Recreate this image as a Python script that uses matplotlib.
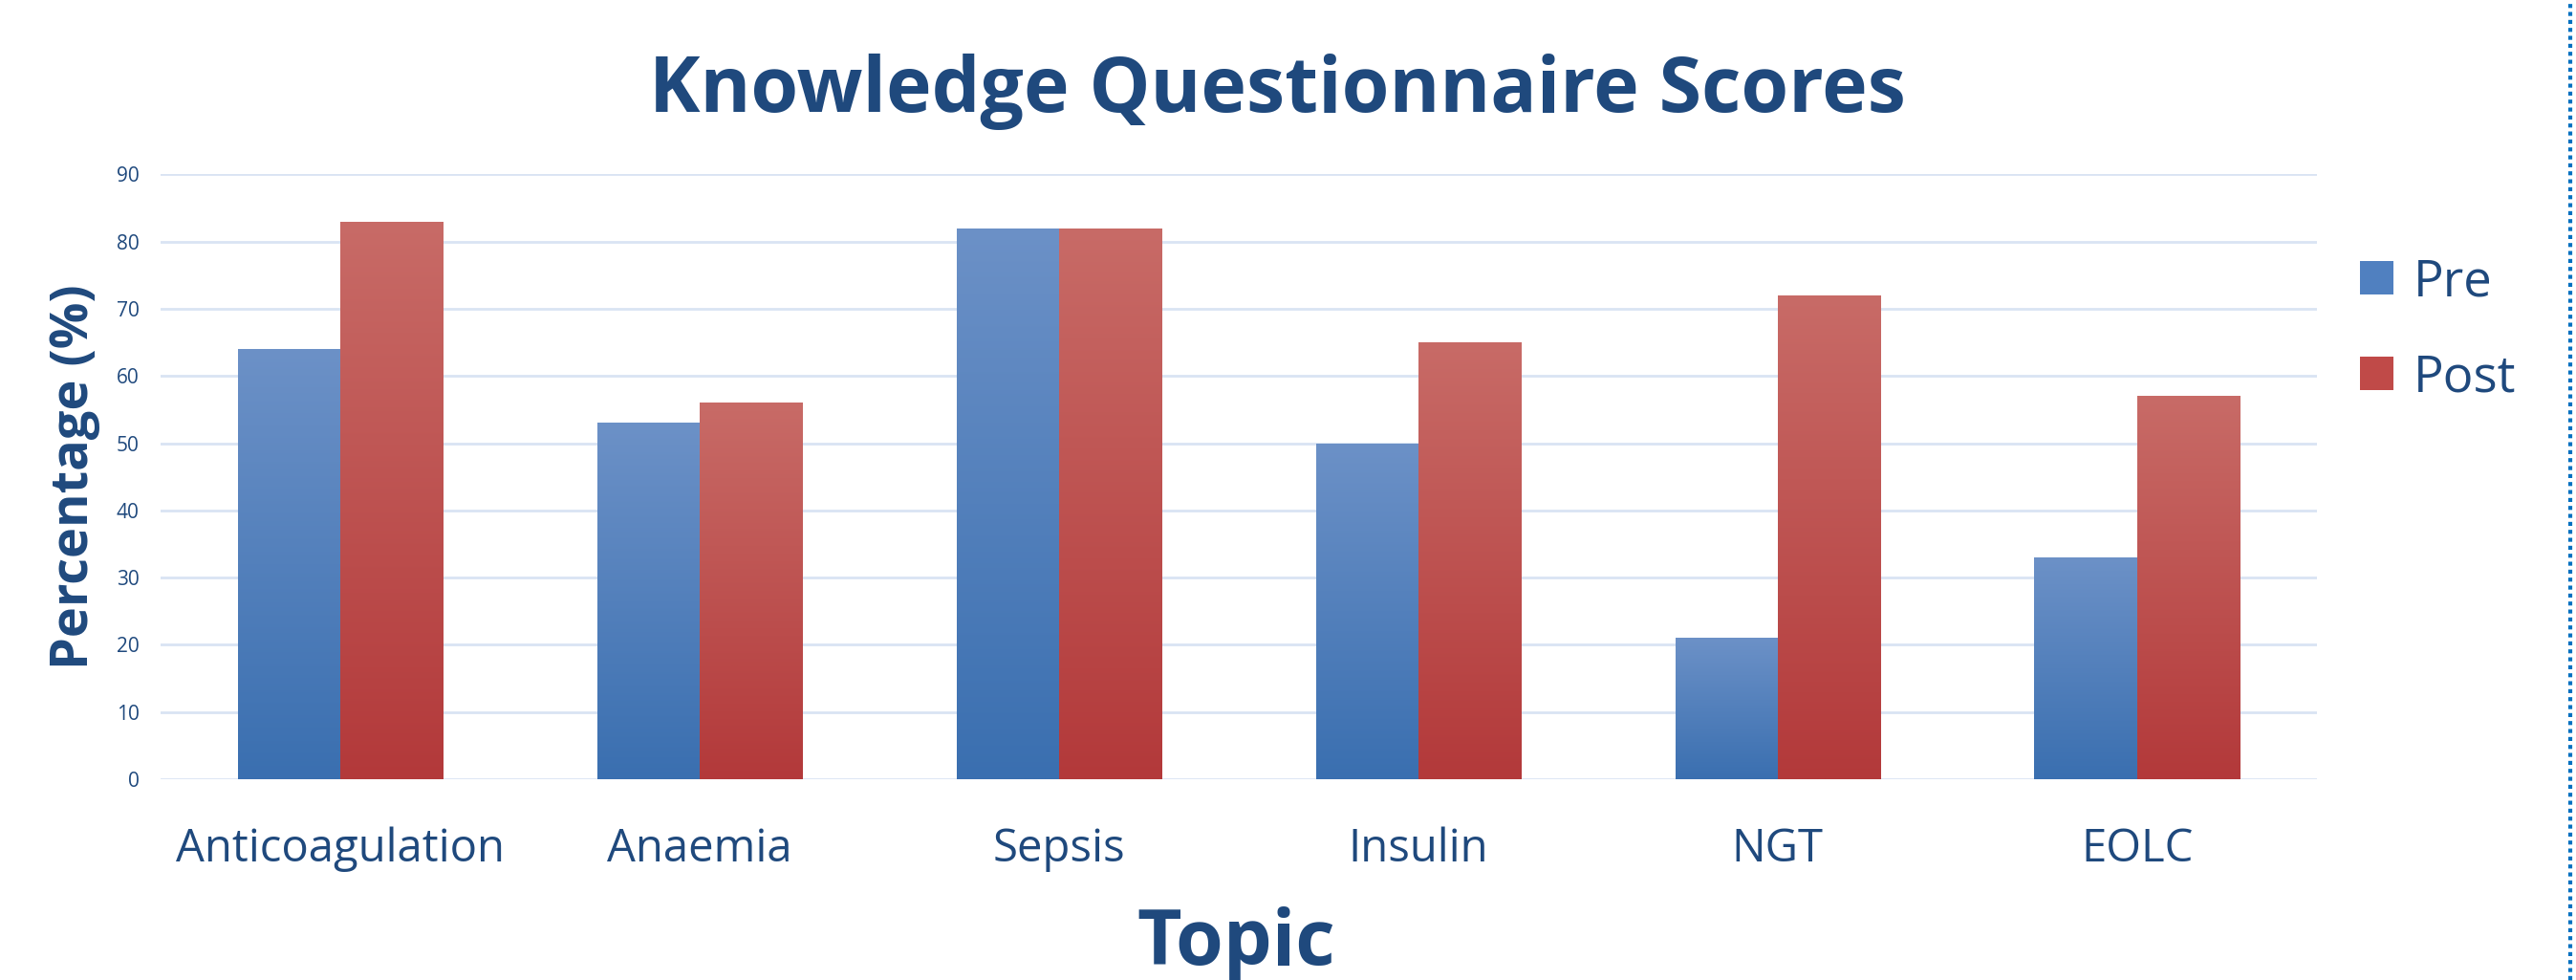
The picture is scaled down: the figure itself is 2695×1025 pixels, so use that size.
import numpy as np
import matplotlib.pyplot as plt
from matplotlib.patches import Patch
from matplotlib.lines import Line2D
from matplotlib.colors import LinearSegmentedColormap

topics = ["Anticoagulation", "Anaemia", "Sepsis", "Insulin", "NGT", "EOLC"]
pre = [64, 53, 82, 50, 21, 33]
post = [83, 56, 82, 65, 72, 57]
series_names = ["Pre", "Post"]

NAVY = "#1F497D"
GRID = "#D9E4F3"
BLUE_TOP, BLUE_BOT = "#6C91C7", "#3A6FB0"
RED_TOP, RED_BOT = "#C86B67", "#B3393A"
FONT = "Open Sans"

fig = plt.figure(figsize=(26.95, 10.25), dpi=100)
ax = fig.add_axes([0.0623, 0.205, 0.8370, 0.617])

x = np.arange(len(topics))
w = 0.285


def gradient_bars(bars, top, bottom):
    # per-bar vertical gradient, lighter at the top
    cmap = LinearSegmentedColormap.from_list("g", [bottom, top])
    grad = np.linspace(0, 1, 256).reshape(-1, 1)
    for b in bars:
        x0, y0 = b.get_x(), b.get_y()
        im = ax.imshow(grad, cmap=cmap, aspect="auto", origin="lower",
                       extent=[x0, x0 + b.get_width(), y0, y0 + b.get_height()],
                       zorder=2)
        im.set_clip_path(b)
        b.set_facecolor("none")


b1 = ax.bar(x - w / 2, pre, w, edgecolor="none", zorder=2)
b2 = ax.bar(x + w / 2, post, w, edgecolor="none", zorder=2)
gradient_bars(b1, BLUE_TOP, BLUE_BOT)
gradient_bars(b2, RED_TOP, RED_BOT)

ax.set_xlim(-0.5, len(topics) - 0.5)
ax.set_ylim(0, 90)
ax.set_yticks(range(0, 91, 10))
ax.yaxis.grid(True, color=GRID, linewidth=2)
ax.set_axisbelow(True)
for s in ax.spines.values():
    s.set_visible(False)
ax.tick_params(axis="both", length=0)
ax.tick_params(axis="y", labelsize=15, labelcolor=NAVY, pad=16)
for t in ax.get_yticklabels():
    t.set_family(FONT)
ax.set_xticks(x)
ax.set_xticklabels(topics, fontsize=34, color=NAVY, family=FONT)
ax.tick_params(axis="x", pad=36)

fig.text(0.496, 0.906, "Knowledge Questionnaire Scores", ha="center", va="center",
         fontsize=58, fontweight="bold", color=NAVY, family=FONT)
fig.text(0.480, 0.036, "Topic", ha="center", va="center",
         fontsize=58, fontweight="bold", color=NAVY, family=FONT)
fig.text(0.029, 0.513, "Percentage (%)", ha="center", va="center", rotation=90,
         fontsize=39, fontweight="bold", color=NAVY, family=FONT)

handles = [Patch(facecolor="#5080C0"), Patch(facecolor="#C04A48")]
leg = fig.legend(handles, series_names, loc="center left",
                 bbox_to_anchor=(0.8986, 0.663), frameon=False,
                 prop={"family": FONT, "size": 38},
                 handlelength=0.65, handleheight=0.65, handletextpad=0.4,
                 labelspacing=0.88)
for t in leg.get_texts():
    t.set_color(NAVY)

fig.add_artist(Line2D([0.9978, 0.9978], [0, 1], transform=fig.transFigure,
                      color="#0070C0", linewidth=3, linestyle=(0, (1, 1))))

fig.savefig("out.png", dpi=100, facecolor="white")
